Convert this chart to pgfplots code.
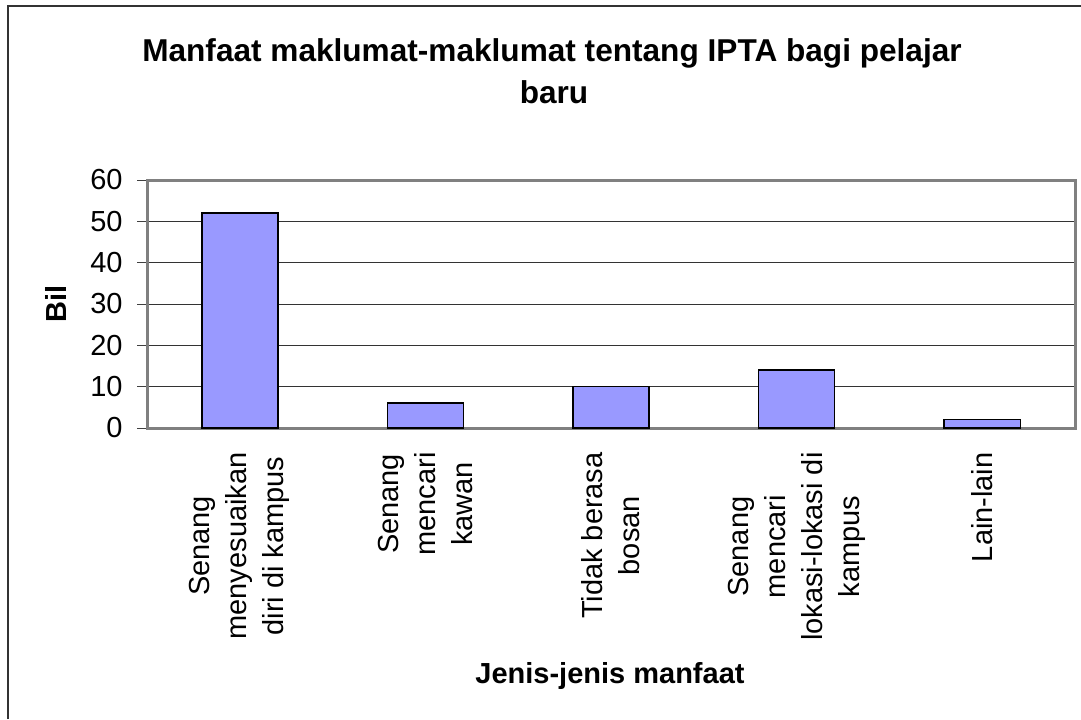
\documentclass[border=0pt]{standalone}
\usepackage{pgfplots}
\pgfplotsset{compat=1.18}
\usepackage{fontspec}
\setmainfont{Liberation Sans}
\definecolor{barfill}{HTML}{9999FF}
\definecolor{axgray}{HTML}{808080}
\begin{document}
\begin{tikzpicture}[x=1pt,y=1pt]
\useasboundingbox (0,0) rectangle (540.5,359.5);
\draw[line width=1pt, black!80] (4,0) -- (4,356.25) -- (540.5,356.25);
\begin{axis}[
  at={(73.5pt,145.5pt)}, anchor=south west,
  scale only axis, width=464pt, height=124pt,
  xmin=0, xmax=5, ymin=0, ymax=60,
  ytick={0,10,20,30,40,50,60},
  xtick={0.5,1.5,2.5,3.5,4.5},
  xticklabels={{Senang\\menyesuaikan\\diri di kampus},{Senang\\mencari\\kawan},{Tidak berasa\\bosan},{Senang\\mencari\\lokasi-lokasi di\\kampus},{Lain-lain}},
  x tick style={draw=none},
  extra x ticks={0,1,2,3,4,5},
  extra x tick labels={},
  extra x tick style={major tick length=5pt, tick align=outside, xtick pos=lower, tick style={draw=axgray, line width=0.6pt}},
  xtick pos=lower, ytick pos=lower,
  tick align=outside, major tick length=5pt,
  y tick style={draw=black!75, line width=0.5pt},
  ymajorgrids, major grid style={draw=black!80, line width=0.5pt},
  axis line style={draw=axgray, line width=1.5pt},
  /pgf/number format/assume math mode=true,
  yticklabel style={font=\fontsize{14.5}{17}\selectfont, anchor=east, inner sep=0pt, xshift=-7pt},
  xticklabel style={font=\fontsize{14.5}{18.5}\selectfont, rotate=90, anchor=east, align=center, inner sep=0pt, xshift=-7pt},
  ybar, bar width=0.41,
]
\addplot[fill=barfill, draw=black, line width=0.75pt] coordinates {(0.5,52) (1.5,6) (2.5,10) (3.5,14) (4.5,2)};
\end{axis}
\node[anchor=base, inner sep=0pt, font=\bfseries\fontsize{15.8}{21}\selectfont] at (276,328.5) {Manfaat maklumat-maklumat tentang IPTA bagi pelajar};
\node[anchor=base, inner sep=0pt, font=\bfseries\fontsize{15.8}{21}\selectfont] at (277,307.5) {baru};
\node[rotate=90, inner sep=0pt, font=\bfseries\fontsize{14.5}{17}\selectfont] at (28,207.5) {Bil};
\node[anchor=base, inner sep=0pt, font=\bfseries\fontsize{14.5}{17}\selectfont] at (305,18) {Jenis-jenis manfaat};
\end{tikzpicture}
\end{document}
